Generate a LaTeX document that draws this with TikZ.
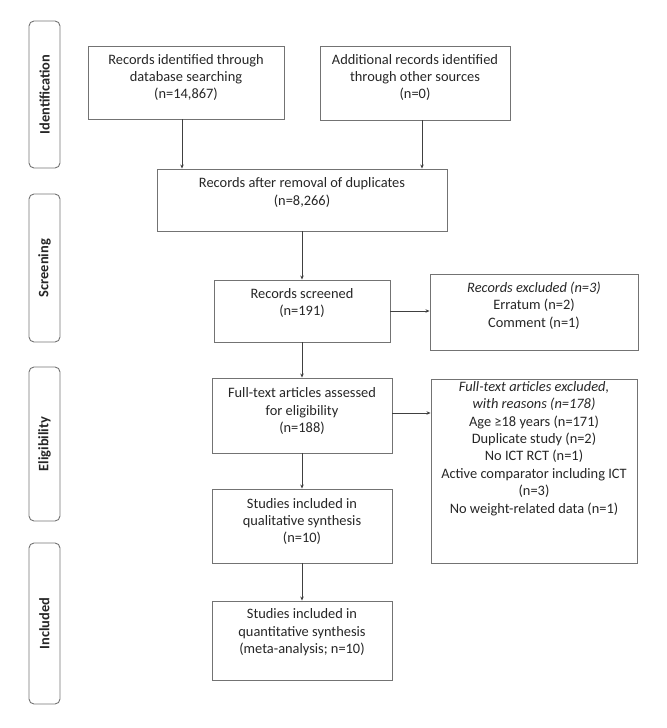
\documentclass[tikz,border=0pt]{standalone}
\usepackage{fontspec}
\setmainfont{Carlito}
\usetikzlibrary{arrows.meta}
\begin{document}
\begin{tikzpicture}[x=1bp,y=-1bp,
  box/.style={draw=black!55,line width=0.9bp,rectangle,inner sep=0pt},
  txt/.style={align=center,inner sep=0pt,font=\fontsize{14.4bp}{17.4bp}\selectfont,text=black!85},
  band/.style={draw=black!55,line width=0.9bp,rounded corners=5bp,rectangle,inner sep=0pt},
  bandtxt/.style={rotate=90,inner sep=0pt,font=\fontsize{14.4bp}{17.4bp}\selectfont\bfseries,text=black!85},
  arr/.style={draw=black!75,line width=0.7bp,-{Stealth[length=4bp,width=3.5bp]}}]
\useasboundingbox (0,0) rectangle (667,728);
% phase bands
\node[band,minimum width=31bp,minimum height=147bp] (pid) at (44.5,94.5) {};
\node[bandtxt] (tid) at (pid.center) {Identification};
\node[band,minimum width=31bp,minimum height=148bp] (psc) at (44.5,268) {};
\node[bandtxt] (tsc) at (psc.center) {Screening};
\node[band,minimum width=31bp,minimum height=154bp] (pel) at (44.5,444) {};
\node[bandtxt] (tel) at (pel.center) {Eligibility};
\node[band,minimum width=31bp,minimum height=161bp] (pin) at (44.5,623.5) {};
\node[bandtxt] (tin) at (pin.center) {Included};
% boxes
\node[box,minimum width=196bp,minimum height=73bp] (b1) at (186,82.5) {};
\node[txt] (t1) at (186,77.5) {Records identified through\\database searching\\(n=14,867)};
\node[box,minimum width=190bp,minimum height=74bp] (b2) at (415,83) {};
\node[txt] (t2) at (415,77.5) {Additional records identified\\through other sources\\(n=0)};
\node[box,minimum width=290bp,minimum height=62bp] (dup) at (302,200) {};
\node[txt] (tdup) at (302,192.5) {Records after removal of duplicates\\(n=8,266)};
\node[box,minimum width=176bp,minimum height=62bp] (scr) at (302,311) {};
\node[txt] (tscr) at (302,303) {Records screened\\(n=191)};
\node[box,minimum width=208bp,minimum height=76bp] (ex1) at (534,312) {};
\node[txt] (tex1) at (534,305.5) {\itshape Records excluded (n=3)\\Erratum (n=2)\\Comment (n=1)};
\node[box,minimum width=180bp,minimum height=75bp] (ft) at (302,415.5) {};
\node[txt] (tft) at (302,411) {Full-text articles assessed\\for eligibility\\(n=188)};
\node[box,minimum width=206bp,minimum height=184bp] (ex2) at (534,471) {};
\node[txt] (tex2) at (534,448.5) {\itshape Full-text articles excluded,\\\itshape with reasons (n=178)\\Age ≥18 years (n=171)\\Duplicate study (n=2)\\No ICT RCT (n=1)\\Active comparator including ICT\\(n=3)\\No weight-related data (n=1)};
\node[box,minimum width=180bp,minimum height=74bp] (qual) at (302,526) {};
\node[txt] (tqual) at (302,521.5) {Studies included in\\qualitative synthesis\\(n=10)};
\node[box,minimum width=180bp,minimum height=79bp] (quant) at (302,640.5) {};
\node[txt] (tquant) at (302,632.5) {Studies included in\\quantitative synthesis\\(meta-analysis; n=10)};
% connectors
\coordinate (xa) at (182,0);
\coordinate (xb) at (422,0);
\coordinate (xc) at (302,0);
\coordinate (ya) at (0,311);
\coordinate (yb) at (0,413);
\draw[arr] (b1.south -| xa) -- (dup.north -| xa);
\draw[arr] (b2.south -| xb) -- (dup.north -| xb);
\draw[arr] (dup.south -| xc) -- (scr.north -| xc);
\draw[arr] (scr.east |- ya) -- (ex1.west |- ya);
\draw[arr] (scr.south -| xc) -- (ft.north -| xc);
\draw[arr] (ft.east |- yb) -- (ex2.west |- yb);
\draw[arr] (ft.south -| xc) -- (qual.north -| xc);
\draw[arr] (qual.south -| xc) -- (quant.north -| xc);
\end{tikzpicture}
\end{document}
